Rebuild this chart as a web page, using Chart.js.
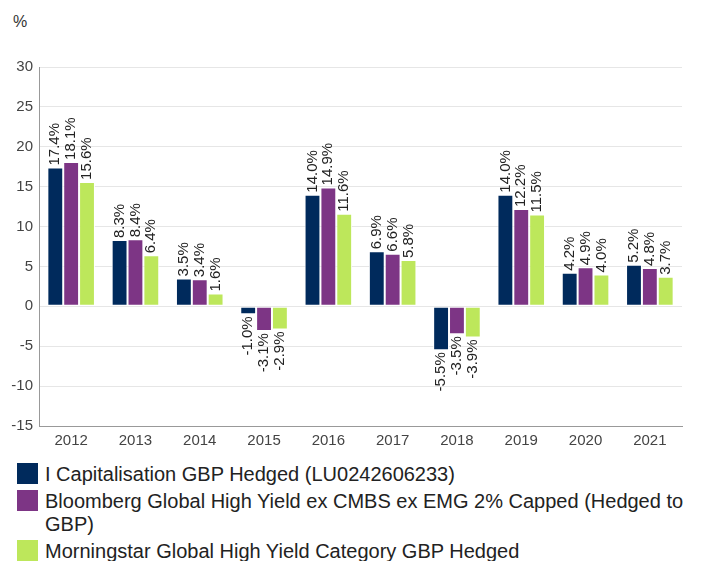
<!DOCTYPE html>
<html>
<head>
<meta charset="utf-8">
<script src="https://cdn.jsdelivr.net/npm/chart.js@4/dist/chart.umd.min.js"></script>
<style>
  body { margin: 0; background: #fff; font-family: "Liberation Sans", Arial, sans-serif; }
  #wrap { position: relative; width: 727px; height: 561px; overflow: hidden; }
  #unit { position: absolute; left: 13px; top: 13px; font-size: 16px; color: #333; }
  #box { position: absolute; left: 0; top: 0; width: 727px; height: 452px; }
  #legend { position: absolute; left: 17px; top: 463px; width: 710px; font-size: 20px; color: #222; }
  .item { display: flex; align-items: flex-start; margin-bottom: 4px; line-height: 23px; }
  .sw { width: 21px; height: 21px; flex: none; margin-right: 7px; margin-top: 0px; }
</style>
</head>
<body>
<div id="wrap">
  <div id="unit">%</div>
  <div id="box"><canvas id="chart"></canvas></div>
  <div id="legend"></div>
</div>
<script>
const years = ["2012", "2013", "2014", "2015", "2016", "2017", "2018", "2019", "2020", "2021"];
const fundReturns = [17.4, 8.3, 3.5, -1.0, 14.0, 6.9, -5.5, 14.0, 4.2, 5.2];
const indexReturns = [18.1, 8.4, 3.4, -3.1, 14.9, 6.6, -3.5, 12.2, 4.9, 4.8];
const categoryReturns = [15.6, 6.4, 1.6, -2.9, 11.6, 5.8, -3.9, 11.5, 4.0, 3.7];
const seriesNames = [
  "I Capitalisation GBP Hedged (LU0242606233)",
  "Bloomberg Global High Yield ex CMBS ex EMG 2% Capped (Hedged to GBP)",
  "Morningstar Global High Yield Category GBP Hedged",
];
const seriesColors = ["#002a5c", "#7d3585", "#bde75b"];

// rotated value labels above (or below) each bar
const barLabels = {
  id: "barLabels",
  afterDatasetsDraw(chart) {
    const ctx = chart.ctx;
    ctx.save();
    ctx.font = "15px 'Liberation Sans', Arial, sans-serif";
    ctx.fillStyle = "#222";
    ctx.textBaseline = "middle";
    chart.data.datasets.forEach((ds, i) => {
      chart.getDatasetMeta(i).data.forEach((bar, j) => {
        const v = ds.data[j];
        const txt = v.toFixed(1) + "%";
        ctx.save();
        ctx.translate(bar.x, bar.y + (v >= 0 ? -2 : 2));
        ctx.rotate(-Math.PI / 2);
        ctx.textAlign = v >= 0 ? "left" : "right";
        ctx.fillText(txt, 0, 0);
        ctx.restore();
      });
    });
    ctx.restore();
  },
};

const datasets = [fundReturns, indexReturns, categoryReturns].map((d, i) => ({
  label: seriesNames[i],
  data: d,
  backgroundColor: seriesColors[i],
  borderColor: "#ffffff",
  borderWidth: 1,
  borderSkipped: false,
  categoryPercentage: 0.74,
  barPercentage: 1,
}));

new Chart(document.getElementById("chart"), {
  type: "bar",
  data: { labels: years, datasets: datasets },
  plugins: [barLabels],
  options: {
    responsive: true,
    maintainAspectRatio: false,
    animation: false,
    layout: { padding: { top: 67, right: 45, left: 0, bottom: 0 } },
    plugins: { legend: { display: false }, tooltip: { enabled: false } },
    scales: {
      x: {
        grid: { display: false, drawTicks: false },
        border: { color: "#999" },
        ticks: { color: "#444", font: { size: 15, family: "'Liberation Sans', Arial" }, padding: 6 },
        afterFit: (s) => { s.height = 26; },
      },
      y: {
        min: -15,
        max: 30,
        ticks: { stepSize: 5, color: "#444", font: { size: 15, family: "'Liberation Sans', Arial" }, padding: 6 },
        grid: { color: "#e6e6e6", drawTicks: false },
        border: { color: "#999" },
        afterFit: (s) => { s.width = 39; },
      },
    },
  },
});

const legend = document.getElementById("legend");
seriesNames.forEach((name, i) => {
  const row = document.createElement("div");
  row.className = "item";
  const sw = document.createElement("span");
  sw.className = "sw";
  sw.style.background = seriesColors[i];
  const txt = document.createElement("span");
  txt.textContent = name;
  row.appendChild(sw);
  row.appendChild(txt);
  legend.appendChild(row);
});
</script>
</body>
</html>
